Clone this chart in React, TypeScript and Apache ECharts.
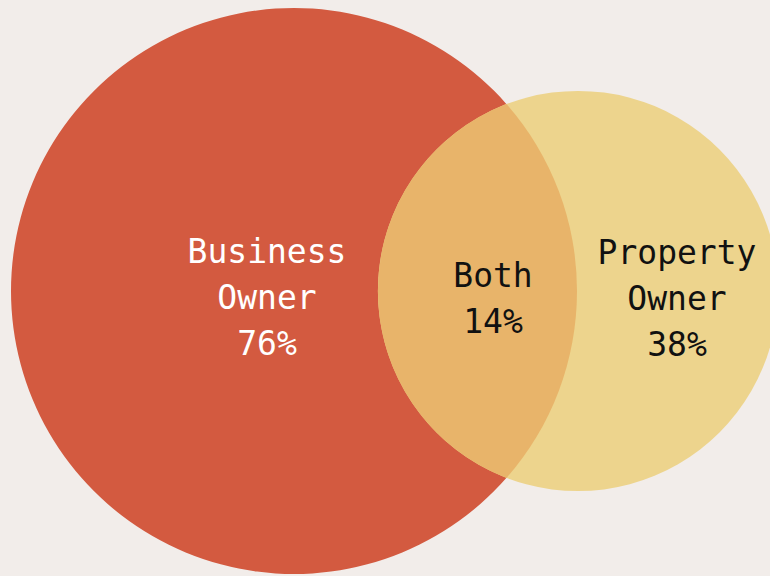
import React, { useEffect, useRef } from "react";
import * as echarts from "echarts";

// ---- data ----
const setNames = ["Business Owner", "Property Owner"];
const setValues = [76, 38]; // percent
const overlapName = "Both";
const overlapValue = 14; // percent

// ---- layout / style (not data) ----
const W = 770;
const H = 576;
const centers = [
  [294, 291],
  [578, 291],
];
const radiusScale = 283 / Math.sqrt(76); // area-proportional radius
const setColors = ["#D35A40", "#EDD48D"];
const overlapColor = "#E8B46A";
const labelColors = ["#FFFFFF", "#111111"];
const labelOffsets = [
  [-27, 6],
  [99, 7],
];
const overlapLabelPos = [493, 298];
const FONT = "'DejaVu Sans Mono', 'Liberation Mono', monospace";

export default function App() {
  const ref = useRef<HTMLDivElement>(null);
  useEffect(() => {
    document.body.style.margin = "0";
    if (!ref.current) return;
    const chart = echarts.init(ref.current, undefined, { renderer: "svg" });

    const setData = setValues.map((v, i) => [
      centers[i][0],
      centers[i][1],
      Math.sqrt(v) * radiusScale,
      i,
    ]);

    const circleAt = (api: any, i: number) => {
      const c = api.coord([setData[i][0], setData[i][1]]);
      const r = api.size([setData[i][2], 0])[0];
      return { cx: c[0], cy: c[1], r };
    };

    const option: any = {
      animation: false,
      backgroundColor: "#F2EDEA",
      grid: { left: 0, right: 0, top: 0, bottom: 0 },
      xAxis: { type: "value", min: 0, max: W, show: false },
      yAxis: { type: "value", min: 0, max: H, inverse: true, show: false },
      series: [
        {
          type: "custom",
          name: "sets",
          silent: true,
          data: setData,
          renderItem: (params: any, api: any) => {
            const i = params.dataIndex;
            const c = circleAt(api, i);
            return {
              type: "circle",
              shape: { cx: c.cx, cy: c.cy, r: c.r },
              style: { fill: setColors[i] },
            };
          },
        },
        {
          type: "custom",
          name: "overlap",
          silent: true,
          data: [[overlapLabelPos[0], overlapLabelPos[1], overlapValue]],
          renderItem: (params: any, api: any) => {
            const a = circleAt(api, 0);
            const b = circleAt(api, 1);
            const dx = b.cx - a.cx;
            const dy = b.cy - a.cy;
            const d = Math.sqrt(dx * dx + dy * dy);
            const l = (d * d + a.r * a.r - b.r * b.r) / (2 * d);
            const h = Math.sqrt(Math.max(a.r * a.r - l * l, 0));
            const mx = a.cx + (l * dx) / d;
            const my = a.cy + (l * dy) / d;
            const ux = -dy / d;
            const uy = dx / d;
            const p1 = [mx - h * ux, my - h * uy];
            const p2 = [mx + h * ux, my + h * uy];
            const pathData =
              `M ${p1[0]} ${p1[1]} ` +
              `A ${a.r} ${a.r} 0 0 1 ${p2[0]} ${p2[1]} ` +
              `A ${b.r} ${b.r} 0 0 1 ${p1[0]} ${p1[1]} Z`;
            const lp = api.coord([api.value(0), api.value(1)]);
            return {
              type: "group",
              children: [
                {
                  type: "path",
                  shape: { pathData },
                  style: { fill: overlapColor },
                },
                {
                  type: "text",
                  x: lp[0],
                  y: lp[1],
                  style: {
                    text: `${overlapName}\n${api.value(2)}%`,
                    fill: "#111111",
                    font: `33px ${FONT}`,
                    textAlign: "center",
                    textVerticalAlign: "middle",
                    lineHeight: 46,
                  },
                },
              ],
            };
          },
        },
        {
          type: "custom",
          name: "setLabels",
          silent: true,
          data: setData,
          renderItem: (params: any, api: any) => {
            const i = params.dataIndex;
            const c = api.coord([
              setData[i][0] + labelOffsets[i][0],
              setData[i][1] + labelOffsets[i][1],
            ]);
            return {
              type: "text",
              x: c[0],
              y: c[1],
              style: {
                text: `${setNames[i].replace(" ", "\n")}\n${setValues[i]}%`,
                fill: labelColors[i],
                font: `33px ${FONT}`,
                textAlign: "center",
                textVerticalAlign: "middle",
                lineHeight: 46,
              },
            };
          },
        },
      ],
    };
    chart.setOption(option);
    return () => chart.dispose();
  }, []);
  return <div ref={ref} style={{ width: W, height: H }} />;
}
